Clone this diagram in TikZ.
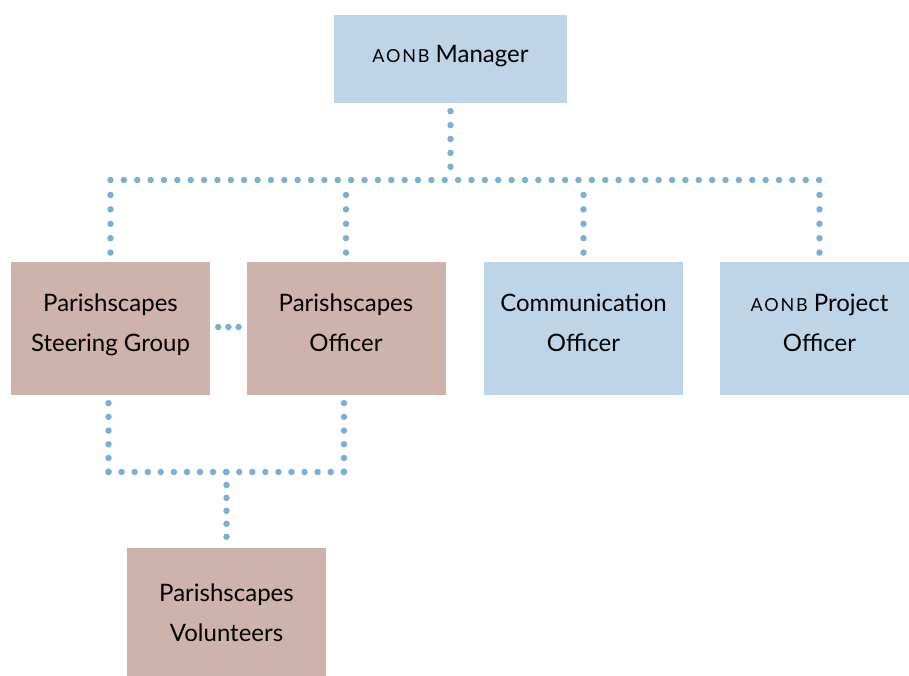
\documentclass[tikz,border=0pt]{standalone}
\usepackage{fontspec}
\setmainfont{Lato}
\usepackage{tikz}
\definecolor{boxblue}{RGB}{190,213,231}
\definecolor{boxrose}{RGB}{206,179,173}
\definecolor{dotblue}{RGB}{125,175,210}
\newcommand{\aonb}{{\fontsize{18}{18}\selectfont\addfontfeatures{LetterSpace=10}AONB}}
\tikzset{
  % Stile comune dei riquadri
  org box/.style={
    minimum width=199pt,
    minimum height=133pt,
    inner sep=0pt,
    text depth=11pt,
    align=center,
    font=\fontsize{24}{40}\selectfont
  },
  blue box/.style={org box, fill=boxblue},
  rose box/.style={org box, fill=boxrose},
  % Stile per le linee a puntini
  dot link/.style={
    draw=dotblue,
    line width=6.5pt,
    line cap=round,
    dash pattern=on 0pt off #1
  },
  dot link/.default=13.4pt
}

\begin{document}
\begin{tikzpicture}[x=1pt,y=1pt]
    \useasboundingbox (0,0) rectangle (909,675);

    % riquadri
    \node[blue box, minimum width=233pt, minimum height=88pt] (mgr) at (450.5,616) {\aonb\ Manager};
    \node[rose box] (steer) at (110.5,346.5) {Parishscapes\\Steering Group};
    \node[rose box] (pofficer) at (346,346.5) {Parishscapes\\Officer};
    \node[blue box] (comm) at (583.5,346.5) {Communication\\Officer};
    \node[blue box] (proj) at (819.5,346.5) {\aonb\ Project\\Officer};
    \node[rose box, minimum height=141pt] (vol) at (226.5,56.5) {Parishscapes\\Volunteers};

    \coordinate (bus) at (0,495);
    \coordinate (low) at (0,203);

    % collegamenti superiori
    \draw[dot link=13.9pt, shorten <=8pt, shorten >=13pt] (mgr.south) -- (mgr.south |- bus);
    \draw[dot link=13.37pt] (steer.north |- bus) -- (proj.north |- bus);
    \foreach \n in {steer, pofficer, comm, proj}
      \draw[dot link=14.4pt, shorten <=15pt, shorten >=9pt] (\n.north |- bus) -- (\n.north);
    \draw[dot link=10.2pt, shorten <=8pt, shorten >=6pt] ([yshift=1.5pt]steer.east) -- ([yshift=1.5pt]pofficer.west);

    % collegamenti inferiori
    \draw[dot link=13.7pt, shorten <=8pt] ([xshift=-2pt]steer.south) -- ([xshift=-2pt]steer.south |- low);
    \draw[dot link=13.7pt, shorten <=8pt] ([xshift=-2pt]pofficer.south) -- ([xshift=-2pt]pofficer.south |- low);
    \draw[dot link=13.07pt] ([xshift=-2pt]steer.south |- low) -- ([xshift=-2pt]pofficer.south |- low);
    \draw[dot link=12.95pt, shorten >=11pt] (vol.north |- low) -- (vol.north);
\end{tikzpicture}
\end{document}
